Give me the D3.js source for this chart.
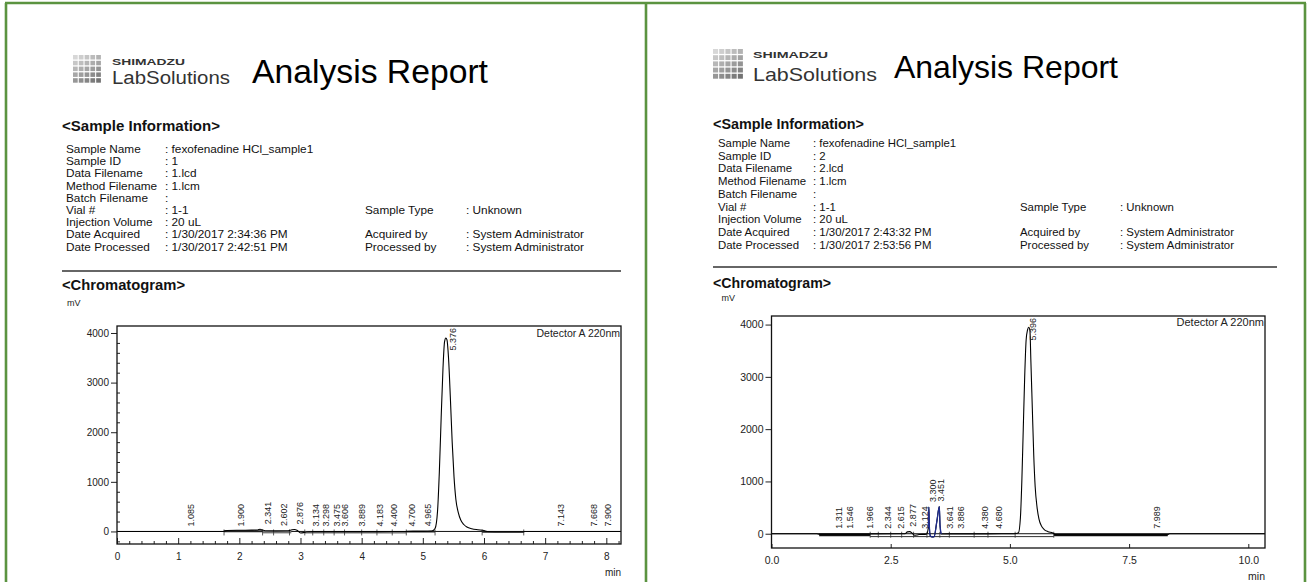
<!DOCTYPE html>
<html><head><meta charset="utf-8">
<script src="https://cdn.jsdelivr.net/npm/d3@7"></script>
<style>
html,body{margin:0;padding:0;background:#fff;}
svg{display:block;font-family:"Liberation Sans",Arial,Helvetica,sans-serif;}
</style></head><body>
<svg id="chart" width="1311" height="582"></svg>
<script>
// ---------- sample information ----------
const infoLabels = ["Sample Name","Sample ID","Data Filename","Method Filename","Batch Filename","Vial #","Injection Volume","Date Acquired","Date Processed"];
const infoValues1 = ["fexofenadine HCl_sample1","1","1.lcd","1.lcm","","1-1","20 uL","1/30/2017 2:34:36 PM","1/30/2017 2:42:51 PM"];
const infoValues2 = ["fexofenadine HCl_sample1","2","2.lcd","1.lcm","","1-1","20 uL","1/30/2017 2:43:32 PM","1/30/2017 2:53:56 PM"];
const sideLabels = ["Sample Type","Acquired by","Processed by"];
const sideRows = [5,7,8];
const sideValues = ["Unknown","System Administrator","System Administrator"];

// ---------- chromatogram 1 (min, mV) ----------
const trace1 = [[0,0],[1.0,0],[1.7,0],[1.75,4],[1.8,20],[2.0,24],[2.2,26],[2.3,29],[2.34,45],[2.38,28],[2.42,14],[2.6,11],[2.8,14],[2.86,34],[2.9,40],[2.95,18],[3.0,-30],[3.05,-24],[3.1,-6],[3.2,-3],[3.5,-3],[4.0,-3],[4.5,-2],[4.75,0],[5.0,2],[5.15,10],[5.2,60],[5.24,400],[5.27,1200],[5.3,2300],[5.33,3300],[5.355,3820],[5.376,3900],[5.395,3860],[5.42,3500],[5.45,2700],[5.48,1800],[5.51,1100],[5.54,650],[5.58,380],[5.62,230],[5.67,140],[5.72,90],[5.8,55],[5.9,35],[6.0,20],[6.05,0],[6.3,-5],[6.65,-5],[6.7,0],[8.24,0]];
const peaks1 = [1.085,1.900,2.341,2.602,2.876,3.134,3.298,3.475,3.606,3.889,4.183,4.400,4.700,4.965,5.376,7.143,7.668,7.900];
const baseGray1 = [[2.38,2.85,-15],[3.07,4.73,-15]];
const baseDark1 = [[1.75,2.38,4],[4.73,5.2,-3],[5.97,6.65,-8]];
const baseMarks1 = [1.75,2.38,2.56,2.82,3.07,3.2,3.38,3.55,3.72,4.0,4.25,4.5,4.73,5.2,5.97,6.65];
const xTicks1 = [0,1,2,3,4,5,6,7,8];
const yTicks1 = [0,1000,2000,3000,4000];

// ---------- chromatogram 2 (min, mV) ----------
const trace2 = [[0,0],[0.95,0],[1.0,-8],[2.05,-8],[2.1,-3],[2.8,0],[2.85,35],[2.9,40],[2.95,10],[3.0,-30],[3.05,-25],[3.1,-15],[3.2,-12],[3.25,-10],[3.29,120],[3.30,510],[3.31,150],[3.33,-40],[3.37,-60],[3.41,-55],[3.47,250],[3.52,520],[3.535,150],[3.56,-5],[3.7,-3],[4.5,-2],[5.1,0],[5.18,20],[5.22,300],[5.25,1000],[5.28,2000],[5.31,3000],[5.34,3700],[5.37,3900],[5.396,3950],[5.42,3880],[5.44,3300],[5.47,2400],[5.5,1500],[5.53,900],[5.57,500],[5.61,280],[5.66,150],[5.72,80],[5.8,40],[5.9,15],[5.95,-15],[6.0,-20],[8.3,-20],[8.35,0],[10.35,0]];
const blueSpan2 = [3.27,3.56];
const peaks2 = [1.311,1.546,1.966,2.344,2.615,2.877,3.124,3.300,3.451,3.641,3.886,4.380,4.680,5.396,7.989];
const baseThin2 = [[2.07,5.92,-55]];
const baseDark2 = [[1.0,2.07,-25],[5.92,8.31,-25]];
const baseMarks2 = [2.07,2.24,2.5,2.73,2.98,3.26,3.53,3.73,4.25,4.54,5.11,5.92];
const xTicks2 = [0,2.5,5,7.5,10];
const yTicks2 = [0,1000,2000,3000,4000];

const svg = d3.select("#chart");
svg.append("rect").attr("width",1311).attr("height",582).attr("fill","#fff");

// panel borders
const green = "#5b9340";
const borders = [[5,3,1306,3],[6,3,6,582],[646,3,646,582],[1305,3,1305,582]];
svg.selectAll("line.border").data(borders).join("line")
  .attr("x1",d=>d[0]).attr("y1",d=>d[1]).attr("x2",d=>d[2]).attr("y2",d=>d[3])
  .attr("stroke",green).attr("stroke-width",2.6);

// header: logo grid + product name + title
function header(g, o) {
  const cell = o.size / 5;
  for (let r = 0; r < 5; r++) for (let c = 0; c < 5; c++) {
    const v = Math.round(215 - r * 16 - c * 9);
    g.append("rect").attr("x", o.x + c * cell).attr("y", o.y + r * cell)
      .attr("width", cell - 1.1).attr("height", cell - 1.3)
      .attr("fill", `rgb(${v},${v},${v})`);
  }
  g.append("text").attr("x", o.tx).attr("y", o.sy).attr("font-size", 9.5).attr("font-weight", "bold")
    .attr("fill", "#333").attr("textLength", o.sw).attr("lengthAdjust", "spacingAndGlyphs").text("SHIMADZU");
  g.append("text").attr("x", o.tx).attr("y", o.ly).attr("font-size", o.lf).attr("fill", "#333")
    .attr("textLength", o.lw).attr("lengthAdjust", "spacingAndGlyphs").text("LabSolutions");
  g.append("text").attr("x", o.ax).attr("y", o.ay).attr("font-size", o.af).attr("fill", "#000")
    .attr("textLength", o.aw).attr("lengthAdjust", "spacingAndGlyphs").text("Analysis Report");
}

function info(g, o, values) {
  g.append("text").attr("x", o.x0).attr("y", o.hy).attr("font-size", 14).attr("font-weight", "bold")
    .attr("fill", "#111").attr("textLength", o.hw).attr("lengthAdjust", "spacingAndGlyphs").text("<Sample Information>");
  infoLabels.forEach((lab, i) => {
    const yy = o.ry + i * o.dy;
    g.append("text").attr("x", o.lx).attr("y", yy).attr("font-size", o.fs).attr("fill", "#111").text(lab);
    g.append("text").attr("x", o.cx).attr("y", yy).attr("font-size", o.fs).attr("fill", "#111")
      .text(values[i] === "" ? ":" : ": " + values[i]);
  });
  sideLabels.forEach((lab, i) => {
    const yy = o.ry + sideRows[i] * o.dy;
    g.append("text").attr("x", o.lx2).attr("y", yy).attr("font-size", o.fs).attr("fill", "#111").text(lab);
    g.append("text").attr("x", o.cx2).attr("y", yy).attr("font-size", o.fs).attr("fill", "#111").text(": " + sideValues[i]);
  });
  g.append("line").attr("x1", o.x0).attr("x2", o.rx2).attr("y1", o.ruleY).attr("y2", o.ruleY)
    .attr("stroke", "#333").attr("stroke-width", 1.6);
  g.append("text").attr("x", o.x0).attr("y", o.cy).attr("font-size", 14).attr("font-weight", "bold")
    .attr("fill", "#111").attr("textLength", o.cw).attr("lengthAdjust", "spacingAndGlyphs").text("<Chromatogram>");
}

function peakHeight(trace, rt) {
  let m = 0;
  trace.forEach(d => { if (Math.abs(d[0] - rt) <= 0.08 && d[1] > m) m = d[1]; });
  return m;
}

function chrom(g, o) {
  const x = d3.scaleLinear().domain(o.xDom).range([o.left, o.right]);
  const y = d3.scaleLinear().domain(o.yDom).range([o.bottom, o.top]);
  const id = "clip" + o.key;
  svg.append("clipPath").attr("id", id).append("rect")
    .attr("x", o.left).attr("y", o.top).attr("width", o.right - o.left).attr("height", o.bottom - o.top);

  g.append("text").attr("x", o.left - 50).attr("y", o.top - o.mvY).attr("font-size", 9).attr("fill", "#222").text("mV");

  // y axis
  g.append("g").attr("transform", `translate(${o.left},0)`)
    .call(d3.axisLeft(y).tickValues(o.yTicks).tickSize(6).tickPadding(2).tickFormat(d3.format("d")))
    .call(a => a.select(".domain").remove())
    .call(a => a.selectAll("text").attr("font-size", o.tf).attr("fill", "#222").attr("font-family", "inherit"))
    .call(a => a.selectAll("line").attr("stroke", "#222"));
  if (o.yMinor) {
    g.append("g").attr("transform", `translate(${o.left},0)`)
      .call(d3.axisRight(y).tickValues(d3.range(-200, o.yDom[1], 200).filter(v => v % 1000 !== 0)).tickSize(3).tickFormat(""))
      .call(a => a.select(".domain").remove())
      .call(a => a.selectAll("line").attr("stroke", "#222"));
  }
  // x axis
  g.append("g").attr("transform", `translate(0,${o.bottom})`)
    .call(d3.axisBottom(x).tickValues(o.xTicks).tickSize(0).tickPadding(9).tickFormat(o.xFmt))
    .call(a => a.select(".domain").remove())
    .call(a => a.selectAll("text").attr("font-size", o.tf).attr("fill", "#222").attr("font-family", "inherit"));
  g.append("g").attr("transform", `translate(0,${o.bottom})`)
    .call(d3.axisTop(x).tickValues(o.xTicks).tickSize(o.xMinor ? 6 : 4).tickFormat(""))
    .call(a => a.select(".domain").remove())
    .call(a => a.selectAll("line").attr("stroke", "#222"));
  if (o.xMinor) {
    g.append("g").attr("transform", `translate(0,${o.bottom})`)
      .call(d3.axisTop(x).tickValues(d3.range(0.2, o.xDom[1], 0.2).filter(v => Math.abs(v - Math.round(v)) > 0.01)).tickSize(3).tickFormat(""))
      .call(a => a.select(".domain").remove())
      .call(a => a.selectAll("line").attr("stroke", "#222"));
  }
  g.append("text").attr("x", o.right).attr("y", o.bottom + 32).attr("text-anchor", "end")
    .attr("font-size", o.tf).attr("fill", "#222").text("min");

  const plot = g.append("g").attr("clip-path", `url(#${id})`);
  // zero line
  plot.append("line").attr("x1", o.left).attr("x2", o.right).attr("y1", y(0)).attr("y2", y(0))
    .attr("stroke", "#111").attr("stroke-width", 1);
  // integration baselines
  const seg = (arr, col, w) => plot.selectAll(null).data(arr).join("line")
    .attr("x1", d => x(d[0])).attr("x2", d => x(d[1])).attr("y1", d => y(d[2])).attr("y2", d => y(d[2]))
    .attr("stroke", col).attr("stroke-width", w);
  o.segs.forEach(s => seg(s[0], s[1], s[2]));
  plot.selectAll(null).data(o.marks).join("line")
    .attr("x1", d => x(d)).attr("x2", d => x(d)).attr("y1", y(0) - 2).attr("y2", y(0) + 4)
    .attr("stroke", "#333").attr("stroke-width", 0.8);

  const line = d3.line().x(d => x(d[0])).y(d => y(d[1])).curve(d3.curveMonotoneX);
  plot.append("path").datum(o.trace).attr("d", line).attr("fill", "none").attr("stroke", "#000").attr("stroke-width", 1.1);
  if (o.blue) {
    plot.append("path").datum(o.trace.filter(d => d[0] >= o.blue[0] && d[0] <= o.blue[1]))
      .attr("d", line).attr("fill", "none").attr("stroke", "#1f2d8f").attr("stroke-width", 1.3);
  }

  // frame
  g.append("rect").attr("x", o.left).attr("y", o.top).attr("width", o.right - o.left).attr("height", o.bottom - o.top)
    .attr("fill", "none").attr("stroke", "#111").attr("stroke-width", 1.3);
  g.append("text").attr("x", o.right - 1).attr("y", o.top + o.detY).attr("text-anchor", "end")
    .attr("font-size", o.df).attr("fill", "#222").text("Detector A 220nm");

  // retention-time labels
  o.peaks.forEach(rt => {
    const t = g.append("text").attr("font-size", 9).attr("fill", "#222").attr("dominant-baseline", "central").text(rt.toFixed(3));
    const len = t.node().getComputedTextLength();
    let bottom = y(peakHeight(o.trace, rt)) - 5;
    if (bottom - len < o.top + 2) bottom = o.top + 2 + len;
    t.attr("transform", `translate(${x(rt) + o.lo},${bottom}) rotate(-90)`);
  });
}

// ---------- left report ----------
const L = svg.append("g");
header(L, {x: 73, y: 55, size: 29, tx: 112, sy: 65, sw: 73, ly: 84, lf: 18, lw: 118, ax: 252, ay: 83, af: 33, aw: 236});
info(L, {x0: 62, hy: 131, hw: 158, lx: 66, cx: 165, lx2: 365, cx2: 466, ry: 153, dy: 12.2, fs: 11.8, ruleY: 271, rx2: 621, cy: 290, cw: 123}, infoValues1);
chrom(L, {key: 1, xDom: [0, 8.24], yDom: [-253, 4141], left: 117, right: 621, top: 326, bottom: 544,
  yTicks: yTicks1, xTicks: xTicks1, xFmt: d3.format("d"), yMinor: true, xMinor: true, tf: 10,
  trace: trace1, peaks: peaks1, lo: 7.5, detY: 11, df: 10.5, mvY: 20,
  segs: [[baseGray1, "#777", 2.4], [baseDark1, "#222", 1.8]], marks: baseMarks1});

// ---------- right report ----------
const R = svg.append("g");
header(R, {x: 713, y: 49, size: 31, tx: 753, sy: 58, sw: 75, ly: 81, lf: 19, lw: 124, ax: 894, ay: 78, af: 32, aw: 224});
info(R, {x0: 713, hy: 129, hw: 151, lx: 718, cx: 813, lx2: 1020, cx2: 1120, ry: 147, dy: 12.7, fs: 11.4, ruleY: 267, rx2: 1277, cy: 288, cw: 118}, infoValues2);
chrom(R, {key: 2, xDom: [0, 10.35], yDom: [-273, 4164], left: 771.5, right: 1265, top: 316, bottom: 548,
  yTicks: yTicks2, xTicks: xTicks2, xFmt: d3.format(".1f"), yMinor: false, xMinor: false, tf: 10.5,
  trace: trace2, peaks: peaks2, lo: 4.5, blue: blueSpan2, detY: 10, df: 11, mvY: 15,
  segs: [[baseThin2, "#333", 1], [baseDark2, "#111", 2.6]], marks: baseMarks2});
</script>
</body></html>
